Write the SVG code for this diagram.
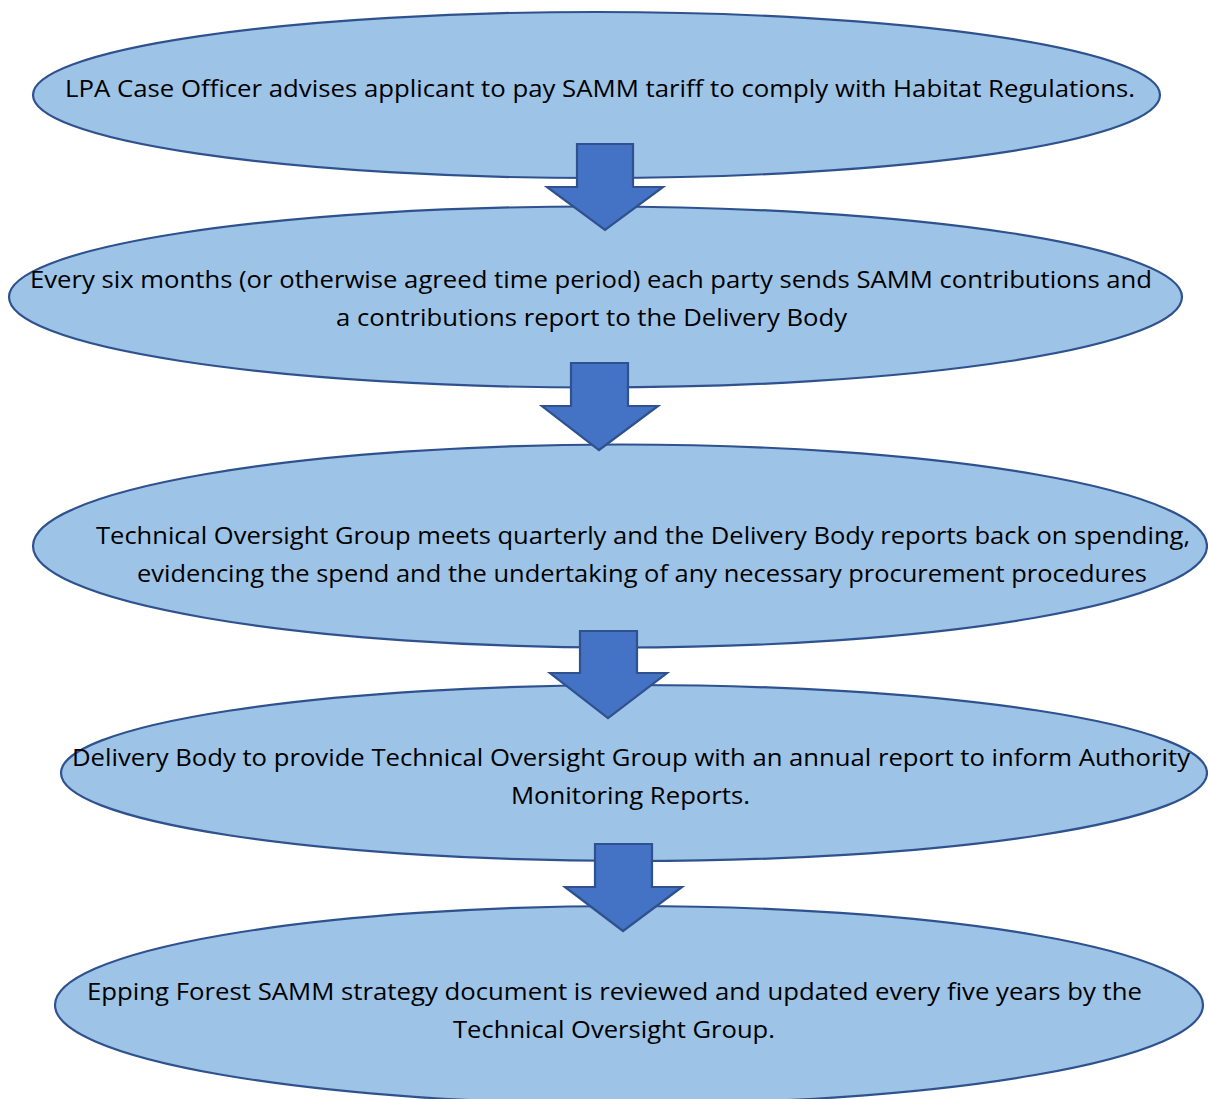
<svg xmlns="http://www.w3.org/2000/svg" width="1208" height="1099" viewBox="0 0 1208 1099">
<style>
.node ellipse{fill:#9DC3E6;stroke:#2F528F;stroke-width:2.2}
.node text{font-family:"Open Sans","Noto Sans","Liberation Sans",sans-serif;font-size:24px;fill:#000}
.arrow{fill:#4472C4;stroke:#2F528F;stroke-width:2.2;stroke-linejoin:miter}
</style>
<rect width="1208" height="1099" fill="#fff"/>
<g id="node1" class="node">
<ellipse cx="596.5" cy="95" rx="563.5" ry="83"/>
<text x="65" y="97" textLength="1070" lengthAdjust="spacingAndGlyphs">LPA Case Officer advises applicant to pay SAMM tariff to comply with Habitat Regulations.</text>
</g>
<g id="node2" class="node">
<ellipse cx="595.5" cy="297" rx="586.5" ry="90.5"/>
<text x="30" y="288" textLength="1122" lengthAdjust="spacingAndGlyphs">Every six months (or otherwise agreed time period) each party sends SAMM contributions and</text>
<text x="336" y="326" textLength="511" lengthAdjust="spacingAndGlyphs">a contributions report to the Delivery Body</text>
</g>
<g id="node3" class="node">
<ellipse cx="620" cy="546" rx="587" ry="101.5"/>
<text x="96" y="544" textLength="1094" lengthAdjust="spacingAndGlyphs">Technical Oversight Group meets quarterly and the Delivery Body reports back on spending,</text>
<text x="137" y="582" textLength="1010" lengthAdjust="spacingAndGlyphs">evidencing the spend and the undertaking of any necessary procurement procedures</text>
</g>
<g id="node4" class="node">
<ellipse cx="634" cy="773" rx="573" ry="88"/>
<text x="72" y="766" textLength="1118" lengthAdjust="spacingAndGlyphs">Delivery Body to provide Technical Oversight Group with an annual report to inform Authority</text>
<text x="511" y="804" textLength="239" lengthAdjust="spacingAndGlyphs">Monitoring Reports.</text>
</g>
<g id="node5" class="node">
<ellipse cx="629" cy="1005" rx="574" ry="99"/>
<text x="87" y="1000" textLength="1055" lengthAdjust="spacingAndGlyphs">Epping Forest SAMM strategy document is reviewed and updated every five years by the</text>
<text x="453" y="1038" textLength="322" lengthAdjust="spacingAndGlyphs">Technical Oversight Group.</text>
</g>
<g id="connectors">
<polygon class="arrow" points="577,144 633,144 633,187 663,187 605,230 547,187 577,187"/>
<polygon class="arrow" points="571,363 628,363 628,406 658,406 599,450 542,406 571,406"/>
<polygon class="arrow" points="580,631 637,631 637,673 667,673 608,718 550,673 580,673"/>
<polygon class="arrow" points="595,844 652,844 652,887 682,887 623,931 565,887 595,887"/>
</g>
</svg>
